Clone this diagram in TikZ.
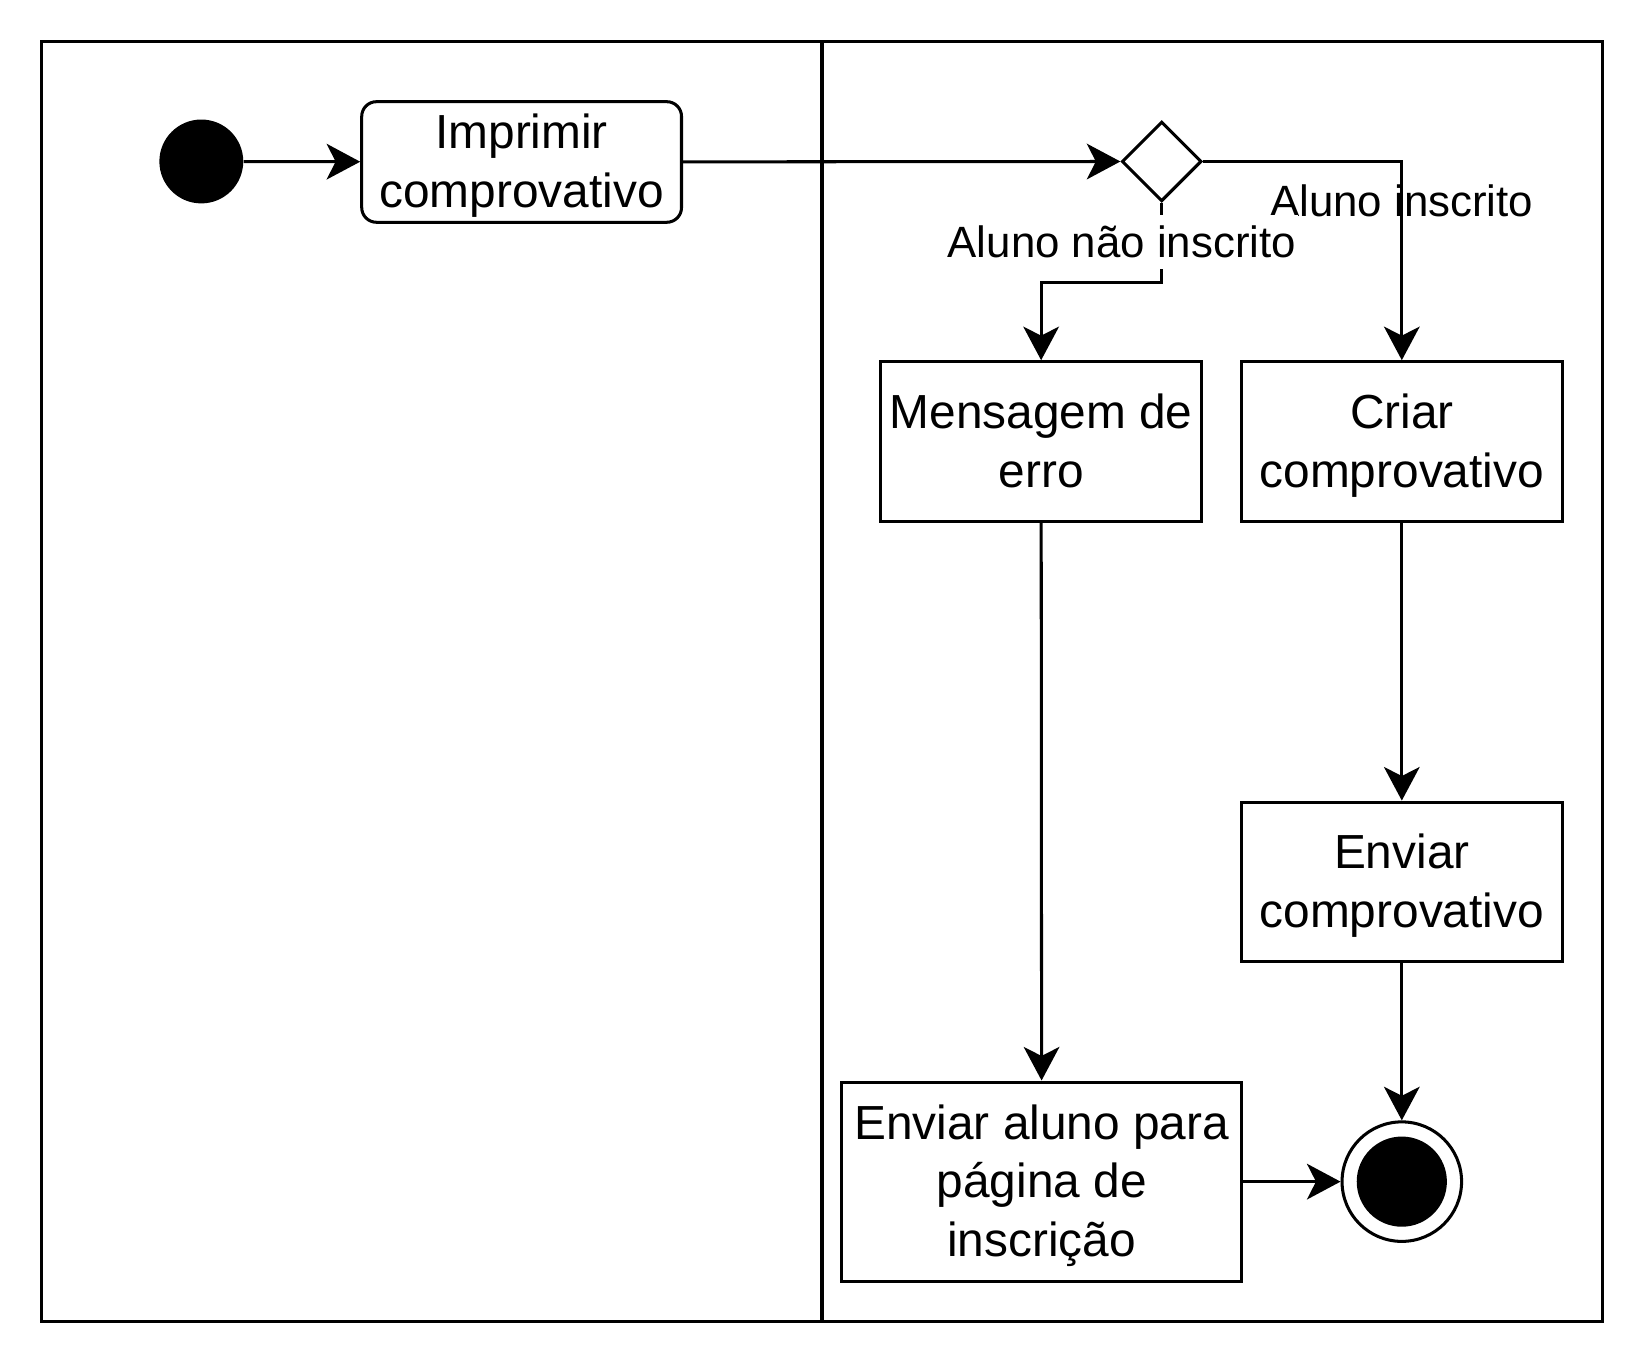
\documentclass[tikz,border=0pt]{standalone}
\usepackage{fontspec}
\setmainfont{Liberation Sans}
\usepackage{tikz}
\usetikzlibrary{shapes,arrows.meta,positioning}
\newcommand{\topstrut}{\rule{0pt}{20.5pt}}
\newcommand{\botstrut}{\rule[-5pt]{0pt}{5pt}}
\tikzstyle{arrow} = [line width=1.45pt,-{Stealth[length=16pt,width=17pt,inset=4.3pt]}]
\tikzstyle{action} = [rectangle, draw=black, line width=1.45pt, align=center, inner sep=0pt, font=\fontsize{22.8}{28}\selectfont]
\tikzstyle{guard} = [inner xsep=1pt, inner ysep=0pt, minimum height=26pt, font=\fontsize{20.9}{25}\selectfont]

\begin{document}
\begin{tikzpicture}[x=0.5pt, y=-0.5pt]
        \useasboundingbox (0,0) rectangle (1568,1305);
        % swimlanes
        \draw[line width=1.45pt] (40,40) rectangle (1528,1260);
        \draw[line width=1.45pt] (784,40) -- (784,1260);

        \node (start) [circle, fill=black, minimum size=40pt, inner sep=0pt] at (192,154) {};
        \node (imprimir) [action, rounded corners=7pt, minimum width=152.5pt, minimum height=57.5pt] at (497.5,154.5) {\topstrut Imprimir\\comprovativo\botstrut};
        \node (dec) [diamond, draw=black, line width=1.45pt, minimum width=38pt, minimum height=38pt, inner sep=0pt] at (1108,154) {};
        \node (erro) [action, minimum width=153pt, minimum height=76pt] at (993,421) {\topstrut Mensagem de\\erro\botstrut};
        \node (criar) [action, minimum width=153pt, minimum height=76pt] at (1337,421) {\topstrut Criar\\comprovativo\botstrut};
        \node (enviarc) [action, minimum width=153pt, minimum height=76pt] at (1337,841) {\topstrut Enviar\\comprovativo\botstrut};
        \node (enviara) [action, minimum width=190.5pt, minimum height=95pt] at (993.5,1127) {\topstrut Enviar aluno para\\página de\\inscrição\botstrut};
        \node (fim) [circle, draw=black, line width=1.45pt, minimum size=57pt, inner sep=0pt] at (1337,1127) {};
        \node (fimdot) [circle, fill=black, minimum size=43pt, inner sep=0pt] at (fim) {};

        \draw[arrow] (start) -- (imprimir);
        \draw[arrow] (imprimir) -- (dec);
        \draw[arrow] (dec.east) -| (criar.north);
        \draw[arrow] (dec.south) -- ++(0,76) -| (erro.north);
        \draw[arrow] (erro) -- (enviara);
        \draw[arrow] (criar) -- (enviarc);
        \draw[arrow] (enviarc) -- (fim);
        \draw[arrow] (enviara) -- (fim);

        \node (inscrito) [guard] at (1337,192) {Aluno inscrito};
        \node (naoinscrito) [guard, fill=white] at (1070,231) {Aluno não inscrito};
    \end{tikzpicture}
\end{document}
